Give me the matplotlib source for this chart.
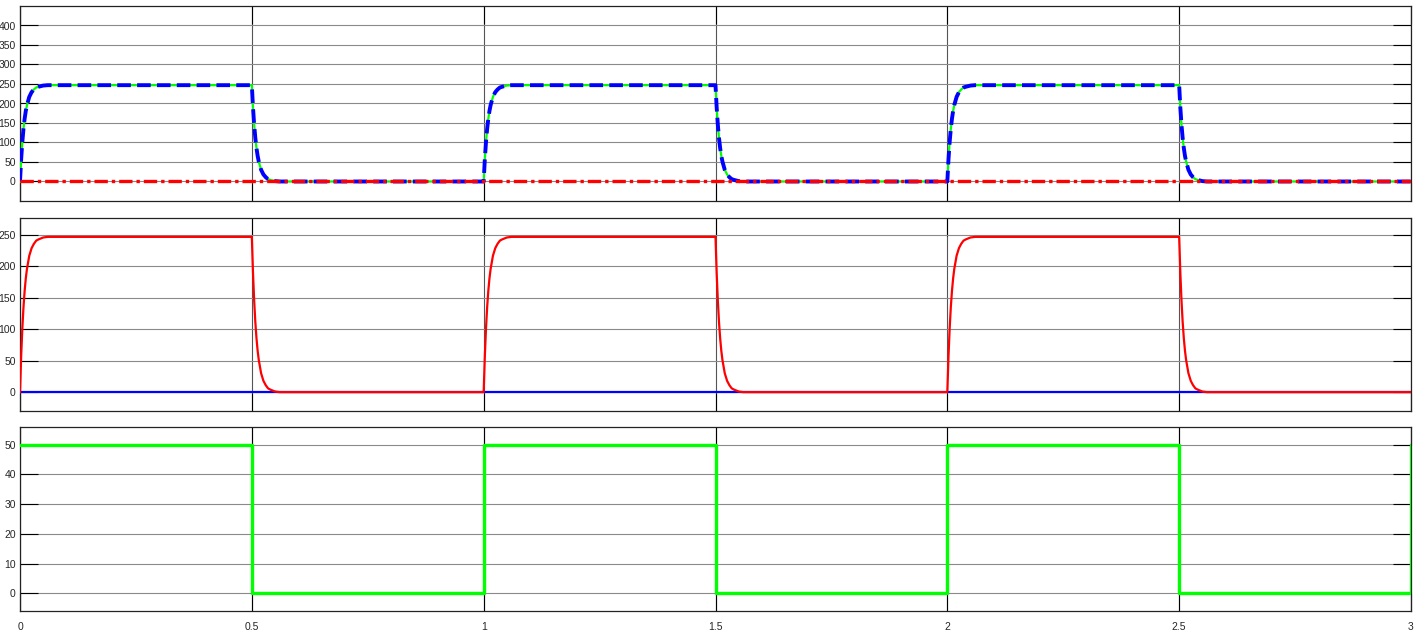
import numpy as np
import matplotlib.pyplot as plt

# one switching cycle: time after edge (s) and value
rise_t = [0, 0.0025, 0.005, 0.0075, 0.01, 0.0125, 0.015, 0.02, 0.025, 0.03, 0.035, 0.04, 0.05, 0.06, 0.5]
rise_v = [0, 57, 101, 135, 161, 181, 196, 217, 229, 236, 241, 243, 246, 247, 247]
fall_t = [0, 0.0025, 0.005, 0.0075, 0.01, 0.0125, 0.015, 0.02, 0.025, 0.03, 0.035, 0.04, 0.05, 0.06, 0.5]
fall_v = [247, 190, 146, 112, 86, 66, 51, 30, 18, 11, 6, 4, 1, 0, 0]

# square wave input
sq_t = [0, 0.5, 1, 1.5, 2, 2.5, 3]
sq_v = [50, 0, 50, 0, 50, 0, 50]

period_starts = [0, 1, 2]

t = []
v = []
for p in period_starts:
    t += [p + x for x in rise_t]
    v += rise_v
    t += [p + 0.5 + x for x in fall_t]
    v += fall_v
t = np.array(t)
v = np.array(v)
zero = np.zeros_like(t)

plt.rcParams['font.family'] = ['Liberation Sans', 'DejaVu Sans']
fig = plt.figure(figsize=(14.24, 6.32), dpi=100)
L, R = 20 / 1424, 1411 / 1424
boxes = [(6, 201), (218, 411), (427, 611)]
axes = []
for top, bot in boxes:
    ax = fig.add_axes([L, 1 - bot / 632, R - L, (bot - top) / 632])
    axes.append(ax)

ax1, ax2, ax3 = axes

ax1.plot(t, v, color='#00ff00', lw=1.6, zorder=3)
ax1.plot(t, v, color='#0000ff', lw=2.8, ls=(0, (3.5, 1.6)), zorder=4)
ax1.plot(t, zero, color='#ff0000', lw=2.4, ls=(0, (4, 1.2, 1, 1.2)), zorder=5)
ax1.set_ylim(-50, 450)
ax1.set_yticks(np.arange(0, 401, 50))

ax2.plot(t, zero, color='#0000ff', lw=1.6, zorder=3)
ax2.plot(t, v, color='#ff0000', lw=1.6, zorder=4)
ax2.set_ylim(-30, 277)
ax2.set_yticks(np.arange(0, 251, 50))

ax3.step(sq_t, sq_v, where='post', color='#00ff00', lw=2.4, zorder=3)
ax3.set_ylim(-6, 56)
ax3.set_yticks(np.arange(0, 51, 10))

for ax in axes:
    ax.set_xlim(0, 3)
    ax.set_xticks([0, 0.5, 1, 1.5, 2, 2.5, 3])
    ax.grid(axis='y', color='#8a8a8a', lw=0.8)
    ax.grid(axis='x', color='#555555', lw=0.8)
    ax.set_axisbelow(True)
    ax.tick_params(direction='in', length=13, width=0.8, top=True, right=True,
                   labelsize=7.5, labelcolor='#262626', pad=3)
    for s in ax.spines.values():
        s.set_linewidth(0.9)
        s.set_color('#222222')

ax1.tick_params(labelbottom=False)
ax2.tick_params(labelbottom=False)
ax3.set_xticklabels(['0', '0.5', '1', '1.5', '2', '2.5', '3'])
ax3.tick_params(axis='x', pad=8)

fig.savefig('out.png', dpi=100)
